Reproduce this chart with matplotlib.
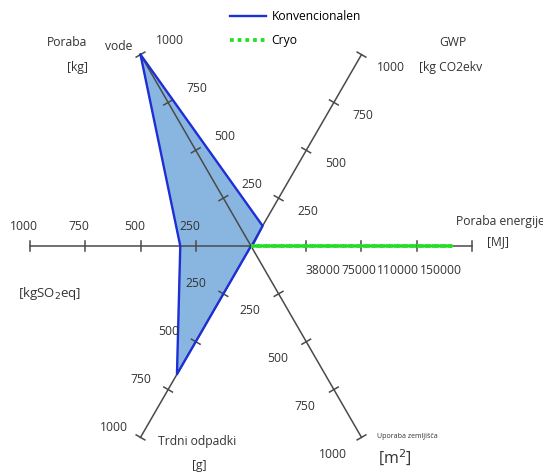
import numpy as np
import matplotlib.pyplot as plt

plt.rcParams['font.family'] = ['Open Sans', 'DejaVu Sans']

# axes of the star chart, counter-clockwise from top-left
axis_names = ['Poraba vode', 'GWP', 'Poraba energije', 'Uporaba zemljisca', 'Trdni odpadki', 'kgSO2eq']
angles_deg = [120, 60, 0, -60, -120, 180]
tick_vals = [250, 500, 750, 1000]
energy_labels = ['38000', '75000', '110000', '150000']

konv = [1000, 105, 5, 0, 670, 320]
cryo = [0, 0, 905, 0, 0, 0]

W, H = 543, 473
cx, cy = 251, 246      # centre in pixels
R = 221.0              # pixels per 1000

fig = plt.figure(figsize=(W / 100, H / 100), dpi=100)
ax = fig.add_axes([0, 0, 1, 1])
ax.set_xlim(-cx / R, (W - cx) / R)
ax.set_ylim(-(H - cy) / R, cy / R)
ax.axis('off')

ang = np.radians(angles_deg)
ux, uy = np.cos(ang), np.sin(ang)

def pts(vals):
    v = np.array(vals) / 1000.0
    x = np.append(v * ux, v[0] * ux[0])
    y = np.append(v * uy, v[0] * uy[0])
    return x, y

axc = '#4a4a4a'
hl = 5 / R
for i in range(6):
    ax.plot([0, ux[i]], [0, uy[i]], color=axc, lw=1.1, zorder=2.5)
    px, py = -uy[i], ux[i]
    for t in tick_vals:
        r = t / 1000.0
        ax.plot([r * ux[i] - hl * px, r * ux[i] + hl * px],
                [r * uy[i] - hl * py, r * uy[i] + hl * py], color=axc, lw=1.1, zorder=2.5)

kx, ky = pts(konv)
ax.fill(kx, ky, color='#88b6e0', zorder=2)
ax.plot(kx, ky, color='#1f2fd6', lw=1.7, zorder=3, label='Konvencionalen')
gx, gy = pts(cryo)
ax.plot(gx, gy, color='#22e022', lw=2.7, ls=(0, (1, 1.05)), zorder=4, label='Cryo')

fs = 8.7
tc = '#333333'

# numbers beside the tilted axes (offset perpendicular to axis, in pixels)
offs = {0: (29, -14), 1: (29, 13), 3: (-29, 17), 4: (-27, -10)}
for i, (dx, dy) in offs.items():
    for t in tick_vals:
        r = t / 1000.0
        ax.text(r * ux[i] + dx / R, r * uy[i] - dy / R, str(t), fontsize=fs, color=tc,
                ha='center', va='center')

# left axis numbers above the axis
for t in tick_vals:
    ax.text(-t / 1000.0 - 6 / R, 20 / R, str(t), fontsize=fs, color=tc, ha='center', va='center')

# energy numbers below the axis
for lab, x in zip(energy_labels, [323, 359, 398, 441]):
    ax.text((x - cx) / R, -(271 - cy) / R, lab, fontsize=fs, color=tc, ha='center', va='center')

def put(x, y, s, size=fs, ha='center'):
    ax.text((x - cx) / R, -(y - cy) / R, s, fontsize=size, color=tc, ha=ha, va='center')

put(67, 43, 'Poraba')
put(119, 47, 'vode')
put(78, 68, '[kg]')
put(453, 43, 'GWP')
put(419, 68, '[kg CO2ekv', ha='left')
put(500, 221, 'Poraba energije')
put(498, 242, '[MJ]')
put(50, 294, '[kgSO$_2$eq]', size=9.5)
put(407, 436, 'Uporaba zemljišča', size=5)
put(395, 458, '[m$^2$]', size=11.5)
put(197, 441, 'Trdni odpadki')
put(199, 465, '[g]')

ax.legend(loc='upper left', bbox_to_anchor=(230 / W, 1 - 10 / H), frameon=False,
          fontsize=fs, handlelength=3.0, handletextpad=0.45, labelspacing=0.9,
          borderpad=0, borderaxespad=0)

fig.savefig('out.png', dpi=100)
